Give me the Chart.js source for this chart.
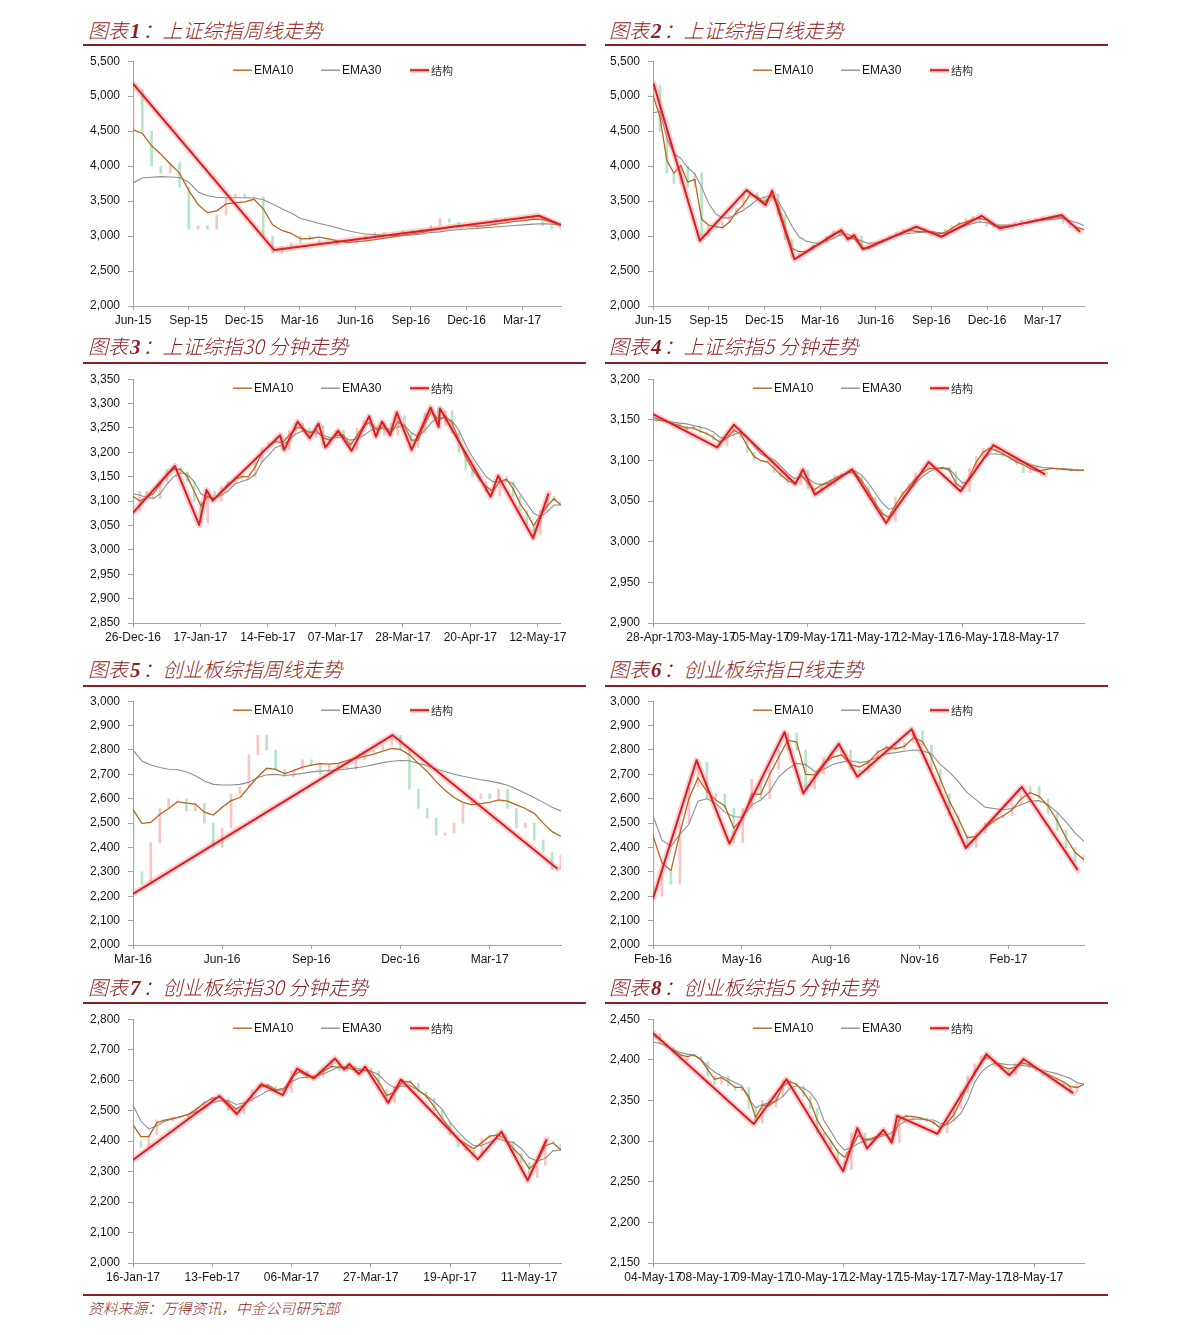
<!DOCTYPE html>
<html><head><meta charset="utf-8">
<script src="https://cdn.jsdelivr.net/npm/chart.js@4.4.1/dist/chart.umd.min.js"></script>
<style>
html,body{margin:0;padding:0;background:#fff}
body{width:1191px;height:1335px;position:relative;overflow:hidden}
.t{position:absolute;font-family:"Noto Sans CJK SC";font-style:italic;font-weight:300;font-size:20px;color:#8c1f24;line-height:24px;white-space:nowrap}
.t b{font-family:"Liberation Serif";font-style:italic;font-weight:bold;font-size:21px;margin:0 2px}
.hl{position:absolute;height:1.5px;background:#8c1f24}
.src{position:absolute;left:88px;top:1298px;font-family:"Noto Sans CJK SC";font-style:italic;font-weight:300;font-size:14.8px;color:#8c1f24;line-height:20px;white-space:nowrap}
canvas{position:absolute}
</style></head><body>
<div class="src">资料来源：万得资讯，中金公司研究部</div>
<script>
// ---------- Panel 1: 上证综指周线 ----------
const p1_labels=['Jun-15','Sep-15','Dec-15','Mar-16','Jun-16','Sep-16','Dec-16','Mar-17'];
const p1_e10=[4520,4470,4290,4170,4030,3900,3650,3450,3335,3360,3460,3476,3488,3525,3390,3160,3080,3040,2960,2965,2985,2960,2930,2910,2920,2930,2950,2970,2990,3010,3030,3050,3080,3100,3130,3150,3150,3140,3150,3170,3190,3210,3220,3240,3240,3200,3150];
const p1_e30=[3760,3830,3840,3850,3845,3838,3770,3630,3575,3555,3548,3548,3548,3545,3520,3460,3390,3330,3250,3220,3180,3150,3115,3080,3050,3030,3020,3010,3010,3010,3015,3030,3050,3060,3080,3090,3100,3110,3120,3130,3140,3150,3160,3170,3175,3170,3160];
const p1_close=[5100,4500,4000,3900,4050,3700,3100,3150,3100,3300,3550,3600,3550,3560,3000,2750,2850,2900,3000,2950,2900,2880,2920,2900,2930,3000,3050,3000,3030,3080,3050,3100,3150,3250,3200,3130,3120,3150,3170,3250,3230,3250,3270,3240,3150,3110,3100];
const p1_sx=[0,2.54,7.3,7.7];
const p1_sy=[5180,2800,3290,3160];

// ---------- Panel 2: 上证综指日线 ----------
const p2_labels=['Jun-15','Sep-15','Dec-15','Mar-16','Jun-16','Sep-16','Dec-16','Mar-17'];
const p2_e10=[5014,4700,4080,3900,4010,3770,3810,3240,3157,3135,3120,3200,3345,3450,3600,3560,3480,3585,3450,3120,2824,2776,2776,2848,2890,2970,3030,3060,2980,2960,2840,2820,2871,2920,2960,3014,3050,3080,3062,3062,3062,3030,3050,3110,3170,3200,3240,3252,3229,3150,3133,3133,3150,3180,3200,3220,3230,3250,3270,3270,3180,3120,3095];
const p2_e30=[4762,4780,4400,4180,4110,3980,3890,3700,3470,3320,3260,3260,3320,3370,3440,3520,3555,3586,3500,3330,3140,2990,2930,2905,2895,2930,2967,3020,3030,2967,2930,2895,2905,2930,2967,3000,3029,3040,3048,3055,3062,3050,3040,3080,3110,3150,3181,3200,3190,3160,3157,3157,3160,3175,3185,3205,3225,3235,3245,3252,3220,3190,3150];
const p2_close=[5150,4500,3900,3750,4000,3700,3900,3000,3150,3100,3200,3300,3400,3600,3620,3550,3500,3600,3300,2950,2700,2750,2800,2870,2900,3000,3080,3000,2950,3000,2820,2850,2900,2950,3000,3050,3100,3100,3050,3060,3000,3050,3100,3150,3200,3250,3280,3200,3140,3120,3140,3150,3200,3230,3240,3250,3270,3280,3260,3180,3120,3080,3100];
const p2_sx=[0.01,0.84,1.68,2.02,2.14,2.54,3.38,3.50,3.61,3.77,4.73,5.18,5.90,6.23,7.34,7.67];
const p2_sy=[5181,2933,3657,3443,3648,2667,3086,2952,3014,2810,3133,2990,3290,3110,3300,3062];

// ---------- Panel 3: 上证综指30分钟 ----------
const p3_labels=['26-Dec-16','17-Jan-17','14-Feb-17','07-Mar-17','28-Mar-17','20-Apr-17','12-May-17'];
const p3_e10=[3110,3100,3108,3115,3135,3155,3165,3165,3150,3120,3090,3110,3105,3120,3135,3145,3150,3150,3170,3200,3212,3222,3220,3235,3250,3250,3240,3245,3230,3225,3235,3235,3215,3235,3255,3262,3245,3255,3240,3262,3255,3225,3225,3260,3285,3265,3275,3260,3225,3190,3165,3145,3130,3120,3140,3145,3125,3095,3075,3050,3070,3090,3105,3092];
const p3_e30=[3115,3112,3108,3105,3115,3135,3150,3158,3155,3140,3115,3108,3105,3112,3120,3135,3140,3145,3155,3180,3195,3210,3215,3225,3238,3244,3242,3240,3235,3230,3230,3232,3225,3228,3235,3245,3250,3248,3248,3252,3255,3240,3232,3245,3262,3272,3270,3265,3245,3215,3190,3170,3150,3140,3140,3142,3135,3115,3095,3075,3068,3078,3092,3092];
const p3_close=[3080,3120,3110,3105,3140,3165,3170,3160,3140,3100,3055,3120,3100,3130,3140,3150,3145,3150,3180,3210,3220,3230,3205,3245,3260,3250,3230,3255,3215,3230,3245,3225,3205,3250,3265,3255,3235,3260,3235,3275,3240,3210,3240,3280,3290,3255,3285,3240,3200,3165,3150,3140,3120,3110,3150,3140,3110,3080,3050,3030,3080,3110,3100,3090];
const p3_sx=[0,0.62,0.98,1.09,1.18,2.18,2.24,2.44,2.62,2.75,2.85,3.04,3.24,3.50,3.60,3.69,3.81,3.91,4.13,4.41,4.53,4.55,5.30,5.41,5.93,6.16];
const p3_sy=[3076,3172,3051,3123,3101,3235,3205,3263,3229,3259,3210,3244,3203,3274,3232,3263,3235,3282,3205,3292,3252,3290,3109,3152,3024,3116];

// ---------- Panel 4: 上证综指5分钟 ----------
const p4_labels=['28-Apr-17','03-May-17','05-May-17','09-May-17','11-May-17','12-May-17','16-May-17','18-May-17'];
const p4_e10=[3153,3150,3148,3145,3143,3140,3140,3136,3133,3128,3122,3128,3137,3133,3118,3105,3100,3098,3090,3082,3075,3072,3082,3072,3064,3070,3072,3078,3082,3085,3085,3075,3062,3048,3035,3030,3045,3058,3068,3078,3085,3090,3090,3091,3088,3072,3066,3080,3098,3110,3115,3112,3108,3103,3098,3095,3090,3087,3088,3090,3090,3089,3088,3088,3088];
const p4_e30=[3150,3149,3148,3147,3146,3145,3143,3141,3139,3135,3128,3128,3132,3134,3128,3118,3108,3104,3101,3093,3084,3078,3080,3078,3072,3070,3074,3078,3081,3085,3087,3082,3072,3060,3048,3040,3042,3052,3062,3072,3080,3086,3090,3091,3090,3080,3072,3076,3090,3102,3108,3108,3107,3104,3100,3098,3095,3093,3091,3091,3090,3090,3089,3088,3088];
const p4_close=[3152,3150,3146,3145,3142,3138,3142,3134,3132,3125,3118,3130,3140,3128,3110,3100,3098,3100,3085,3080,3072,3070,3088,3065,3060,3072,3070,3082,3084,3086,3080,3068,3055,3040,3032,3025,3055,3062,3072,3085,3090,3092,3089,3092,3086,3066,3062,3090,3105,3115,3114,3110,3105,3100,3095,3085,3092,3088,3090,3091,3088,3090,3087,3089,3088];
const p4_sx=[0,1.19,1.50,2.64,2.78,3.0,3.69,4.32,5.11,5.70,6.31,7.27];
const p4_sy=[3157,3116,3144,3071,3089,3058,3089,3023,3098,3062,3119,3083];

// ---------- Panel 5: 创业板综指周线 ----------
const p5_labels=['Mar-16','Jun-16','Sep-16','Dec-16','Mar-17'];
const p5_e10=[2556,2499,2503,2535,2560,2588,2582,2578,2545,2533,2565,2592,2605,2648,2690,2725,2720,2703,2715,2730,2738,2744,2742,2745,2756,2766,2774,2783,2795,2806,2802,2780,2745,2712,2670,2635,2605,2585,2575,2580,2585,2595,2590,2575,2560,2540,2500,2465,2445];
const p5_e30=[2799,2755,2738,2728,2721,2720,2710,2694,2673,2659,2656,2656,2659,2668,2687,2698,2700,2695,2699,2704,2710,2713,2716,2718,2722,2727,2732,2740,2748,2754,2757,2756,2745,2735,2722,2712,2700,2692,2685,2678,2672,2665,2655,2640,2622,2605,2585,2565,2550];
const p5_close=[2300,2250,2420,2560,2600,2600,2550,2580,2500,2400,2480,2620,2650,2780,2860,2800,2720,2690,2720,2760,2740,2700,2740,2730,2720,2760,2790,2800,2820,2860,2800,2640,2560,2520,2450,2460,2500,2580,2600,2620,2600,2640,2560,2480,2500,2430,2380,2310,2370];
const p5_sx=[0,2.91,4.76];
const p5_sy=[2210,2861,2313];

// ---------- Panel 6: 创业板综指日线 ----------
const p6_labels=['Feb-16','May-16','Aug-16','Nov-16','Feb-17'];
const p6_e10=[2448,2337,2305,2460,2600,2685,2630,2595,2570,2480,2520,2620,2618,2700,2770,2840,2832,2700,2698,2745,2770,2780,2740,2730,2750,2790,2810,2805,2815,2850,2835,2770,2680,2590,2520,2440,2445,2480,2510,2530,2555,2600,2625,2610,2570,2510,2440,2380,2350];
const p6_e30=[2530,2430,2405,2455,2495,2590,2600,2581,2545,2526,2524,2575,2595,2630,2690,2722,2745,2740,2712,2720,2740,2750,2756,2748,2755,2770,2784,2789,2795,2800,2797,2785,2740,2710,2670,2625,2595,2565,2560,2555,2560,2575,2590,2592,2575,2545,2505,2460,2425];
const p6_close=[2200,2300,2250,2500,2650,2750,2600,2620,2560,2420,2560,2680,2600,2720,2800,2870,2800,2640,2700,2770,2790,2800,2720,2710,2760,2800,2820,2800,2830,2880,2820,2720,2620,2530,2450,2400,2460,2500,2520,2530,2580,2620,2650,2600,2540,2470,2400,2340,2370];
const p6_sx=[0,0.49,0.86,1.48,1.69,2.09,2.30,2.91,3.52,4.15,4.78];
const p6_sy=[2190,2758,2416,2873,2622,2825,2690,2885,2398,2648,2307];

// ---------- Panel 7: 创业板综指30分钟 ----------
const p7_labels=['16-Jan-17','13-Feb-17','06-Mar-17','27-Mar-17','19-Apr-17','11-May-17'];
const p7_e10=[2453,2415,2415,2460,2469,2474,2480,2488,2505,2526,2540,2544,2526,2505,2520,2550,2577,2584,2568,2567,2610,2628,2613,2611,2628,2645,2642,2640,2633,2632,2630,2595,2550,2560,2595,2594,2567,2548,2513,2475,2440,2408,2390,2375,2395,2416,2420,2408,2375,2349,2310,2330,2385,2394,2371];
const p7_e30=[2518,2465,2440,2450,2465,2473,2480,2488,2495,2506,2527,2532,2533,2520,2525,2536,2550,2565,2568,2573,2595,2607,2610,2614,2620,2632,2644,2644,2640,2634,2630,2618,2591,2575,2580,2582,2566,2550,2529,2505,2462,2430,2405,2385,2386,2397,2409,2400,2395,2375,2345,2335,2343,2368,2371];
const p7_close=[2400,2380,2420,2470,2465,2480,2475,2490,2510,2530,2545,2540,2500,2490,2530,2570,2585,2580,2560,2560,2630,2630,2605,2610,2640,2665,2630,2645,2625,2640,2630,2570,2525,2580,2600,2590,2560,2540,2500,2460,2420,2380,2370,2350,2410,2420,2425,2400,2360,2330,2280,2320,2400,2390,2370];
const p7_sx=[0,1.09,1.31,1.62,1.89,2.07,2.28,2.55,2.66,2.73,2.85,2.93,3.22,3.38,4.35,4.65,4.98,5.22];
const p7_sy=[2338,2548,2489,2587,2551,2638,2606,2671,2635,2653,2620,2644,2526,2602,2340,2431,2271,2406];

// ---------- Panel 8: 创业板综指5分钟 ----------
const p8_labels=['04-May-17','08-May-17','09-May-17','10-May-17','12-May-17','15-May-17','17-May-17','18-May-17'];
const p8_e10=[2430,2425,2418,2412,2406,2404,2406,2400,2388,2376,2378,2373,2366,2366,2355,2329,2344,2344,2350,2368,2373,2370,2360,2348,2326,2312,2300,2287,2280,2292,2307,2302,2303,2307,2309,2300,2327,2331,2330,2329,2326,2323,2316,2322,2333,2350,2369,2385,2398,2404,2398,2392,2389,2391,2396,2394,2389,2385,2381,2377,2373,2367,2366,2370];
const p8_e30=[2422,2420,2417,2412,2409,2407,2406,2401,2392,2385,2380,2376,2372,2368,2352,2341,2345,2347,2349,2355,2365,2368,2365,2360,2348,2325,2312,2298,2289,2292,2297,2300,2302,2305,2307,2311,2320,2325,2327,2327,2326,2326,2322,2320,2326,2334,2350,2372,2385,2392,2396,2395,2394,2394,2393,2392,2390,2387,2385,2383,2380,2377,2372,2370];
const p8_close=[2432,2420,2415,2408,2400,2405,2404,2398,2380,2370,2380,2368,2362,2366,2340,2322,2350,2342,2355,2375,2372,2368,2355,2340,2310,2300,2290,2275,2265,2310,2310,2295,2305,2310,2312,2298,2332,2330,2328,2328,2324,2320,2310,2325,2340,2360,2380,2395,2405,2400,2392,2388,2382,2395,2398,2390,2386,2380,2378,2372,2368,2360,2372,2370];
const p8_sx=[0,1.85,2.45,3.49,3.75,3.93,4.23,4.38,4.48,5.22,6.12,6.54,6.80,7.71];
const p8_sy=[2433,2321,2376,2263,2316,2291,2314,2298,2331,2309,2407,2381,2401,2359];

const titleNums=['1','2','3','4','5','6','7','8'];
const titleTexts=['上证综指周线走势','上证综指日线走势','上证综指30 分钟走势','上证综指5 分钟走势','创业板综指周线走势','创业板综指日线走势','创业板综指30 分钟走势','创业板综指5 分钟走势'];
const legendNames=['EMA10','EMA30','结构'];

// ---------- layout (not data) ----------
const PLOT_TOP=[61,379,701,1019], PLOT_H=[245,244,244,244];
const TITLE_MID=[31,347,670,988], RULE_Y=[44,362,685,1002];
const PAD_TOP=15, X_H=30;
const E10C='#b8641f', E30C='#8e8e8e', RED='#dc1d24', HALO='rgba(236,110,110,0.32)', AX='#a3a3a3';
const UP='rgba(244,150,150,0.55)', DN='rgba(120,208,160,0.55)';

const panels=[
 {col:0,row:0,labels:p1_labels,e10:p1_e10,e30:p1_e30,close:p1_close,sx:p1_sx,sy:p1_sy,marks:[0,1,2,3,4,5,6,7],xMax:7.7,yMin:2000,yMax:5500,yStep:500,bar:2},
 {col:1,row:0,labels:p2_labels,e10:p2_e10,e30:p2_e30,close:p2_close,sx:p2_sx,sy:p2_sy,marks:[0,1,2,3,4,5,6,7],xMax:7.74,yMin:2000,yMax:5500,yStep:500,bar:2},
 {col:0,row:1,labels:p3_labels,e10:p3_e10,e30:p3_e30,close:p3_close,sx:p3_sx,sy:p3_sy,marks:[0,1,2,3,4,5,6],xMax:6.34,yMin:2850,yMax:3350,yStep:50,bar:2},
 {col:1,row:1,labels:p4_labels,e10:p4_e10,e30:p4_e30,close:p4_close,sx:p4_sx,sy:p4_sy,marks:[0,2.87,5.73],xMax:7.99,yMin:2900,yMax:3200,yStep:50,bar:2},
 {col:0,row:2,labels:p5_labels,e10:p5_e10,e30:p5_e30,close:p5_close,sx:p5_sx,sy:p5_sy,marks:[0,1,2,3,4],xMax:4.8,yMin:2000,yMax:3000,yStep:100,bar:2},
 {col:1,row:2,labels:p6_labels,e10:p6_e10,e30:p6_e30,close:p6_close,sx:p6_sx,sy:p6_sy,marks:[0,1,2,3,4],xMax:4.85,yMin:2000,yMax:3000,yStep:100,bar:2},
 {col:0,row:3,labels:p7_labels,e10:p7_e10,e30:p7_e30,close:p7_close,sx:p7_sx,sy:p7_sy,marks:[0,1,2,3,4,5],xMax:5.4,yMin:2000,yMax:2800,yStep:100,bar:2},
 {col:1,row:3,labels:p8_labels,e10:p8_e10,e30:p8_e30,close:p8_close,sx:p8_sx,sy:p8_sy,marks:[0,3.5,7],xMax:7.91,yMin:2150,yMax:2450,yStep:50,bar:2}
];

Chart.defaults.font.family='"Liberation Sans", Arial, sans-serif';
Chart.defaults.font.size=12;
Chart.defaults.color='#151515';

const legendPlugin={id:'lg',afterDraw(chart){
  const ctx=chart.ctx,a=chart.chartArea,y=a.top+9;
  const offs=[100,188,277];
  const cols=[E10C,E30C,RED];
  ctx.save();
  offs.forEach((o,i)=>{
    const x=a.left+o;
    if(i===2){ctx.strokeStyle=HALO;ctx.lineWidth=5;ctx.beginPath();ctx.moveTo(x,y);ctx.lineTo(x+19,y);ctx.stroke();}
    ctx.strokeStyle=cols[i];ctx.lineWidth=i===2?2:1.4;
    ctx.beginPath();ctx.moveTo(x,y);ctx.lineTo(x+19,y);ctx.stroke();
    ctx.fillStyle=i===2?'#333':'#151515';
    ctx.font=i===2?'11px "Noto Sans CJK SC"':'12px "Liberation Sans", Arial, sans-serif';
    ctx.textBaseline='middle';ctx.textAlign='left';
    ctx.fillText(legendNames[i],x+21,y+0.5);
  });
  ctx.restore();
}};

function build(p,k){
  const W=490,left=p.col?600:80,top=PLOT_TOP[p.row]-PAD_TOP,H=PAD_TOP+PLOT_H[p.row]+X_H;
  const cv=document.createElement('canvas');
  cv.width=W;cv.height=H;
  cv.style.cssText='left:'+left+'px;top:'+top+'px;width:'+W+'px;height:'+H+'px';
  document.body.appendChild(cv);
  const t=document.createElement('div');t.className='t';
  t.style.left=(p.col?609:88)+'px';t.style.top=(TITLE_MID[p.row]-13)+'px';
  t.innerHTML='图表<b>'+titleNums[k]+'</b>：'+titleTexts[k];
  document.body.appendChild(t);
  const r=document.createElement('div');r.className='hl';
  r.style.left=(p.col?605:83)+'px';r.style.width='503px';r.style.top=RULE_Y[p.row]+'px';
  document.body.appendChild(r);

  const n=p.e10.length,step=p.xMax/(n-1);
  const xy=a=>a.map((v,i)=>({x:i*step,y:v}));
  const cd=p.close.map((c,i)=>({x:i*step,y:[i?p.close[i-1]:p.e10[0],c]}));
  const cc=cd.map(o=>o.y[1]>=o.y[0]?UP:DN);
  const st=p.sx.map((x,i)=>({x:x,y:p.sy[i]}));
  const ticks=p.labels.map((l,i)=>({v:i,l:l,m:p.marks.some(m=>Math.abs(m-i)<1e-6)}));
  p.marks.forEach(m=>{if(!ticks.some(q=>Math.abs(q.v-m)<1e-6))ticks.push({v:m,l:'',m:true});});
  ticks.sort((a,b)=>a.v-b.v);
  const find=v=>ticks.find(q=>Math.abs(q.v-v)<1e-6);
  new Chart(cv,{type:'line',
    data:{datasets:[
      {type:'bar',data:cd,backgroundColor:cc,barThickness:p.bar,order:5},
      {data:xy(p.e30),borderColor:E30C,borderWidth:1.1,pointRadius:0,tension:0,order:4},
      {data:xy(p.e10),borderColor:E10C,borderWidth:1.3,pointRadius:0,tension:0,order:3},
      {data:st,borderColor:HALO,borderWidth:6,pointRadius:0,borderJoinStyle:'round',borderCapStyle:'round',order:2},
      {data:st,borderColor:RED,borderWidth:2,pointRadius:0,borderJoinStyle:'round',order:1}
    ]},
    options:{responsive:false,animation:false,events:[],
      layout:{padding:{top:PAD_TOP,right:p.col?6:9,left:0,bottom:0}},
      plugins:{legend:{display:false},tooltip:{enabled:false},title:{display:false}},
      scales:{
        x:{type:'linear',min:0,max:p.xMax,offset:false,
          afterBuildTicks:s=>{s.ticks=ticks.map(q=>({value:q.v}));},
          afterFit:s=>{s.height=X_H;},
          ticks:{autoSkip:false,maxRotation:0,minRotation:0,padding:3,callback:v=>{const q=find(v);return q?q.l:'';}},
          grid:{drawOnChartArea:false,drawTicks:true,tickLength:4,offset:false,
            tickColor:c=>{const q=c.tick&&find(c.tick.value);return q&&q.m?AX:'rgba(0,0,0,0)';}},
          border:{display:true,color:AX,width:1}},
        y:{type:'linear',min:p.yMin,max:p.yMax,
          afterFit:s=>{s.width=53;},
          ticks:{stepSize:p.yStep,padding:8,callback:v=>v.toLocaleString('en-US')},
          grid:{drawOnChartArea:false,drawTicks:true,tickLength:5,tickColor:AX},
          border:{display:true,color:AX,width:1}}
      }},
    plugins:[legendPlugin]});
}
panels.forEach(build);
const fr=document.createElement('div');fr.className='hl';
fr.style.left='83px';fr.style.width='1025px';fr.style.top='1294px';
document.body.appendChild(fr);
</script>
</body></html>
